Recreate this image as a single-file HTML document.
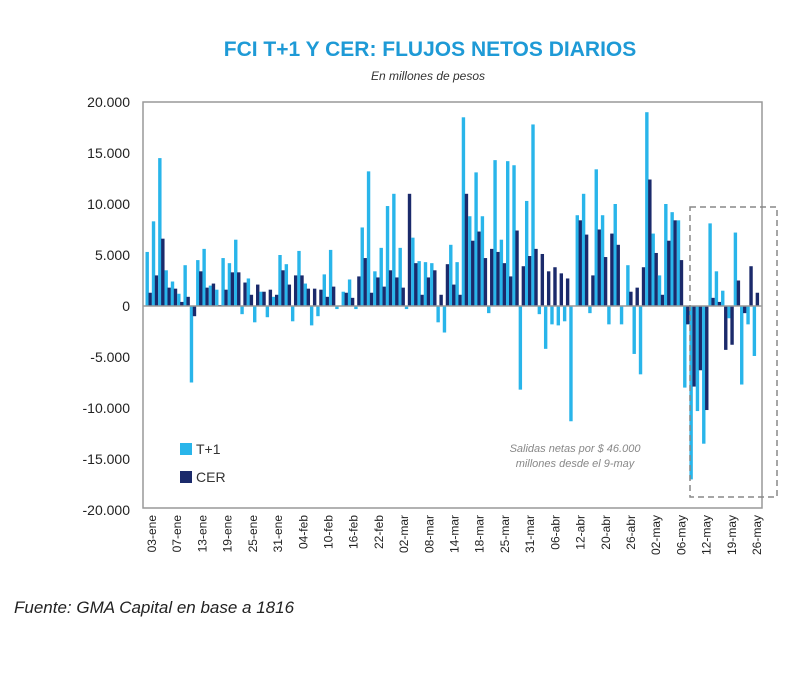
<!DOCTYPE html>
<html><head><meta charset="utf-8"><style>
body{margin:0;background:#fff;width:800px;height:675px;overflow:hidden;font-family:"Liberation Sans",sans-serif}
</style></head><body>
<svg width="800" height="675" xmlns="http://www.w3.org/2000/svg">
<text x="430" y="56" text-anchor="middle" font-size="21" font-weight="bold" fill="#1e9ad6">FCI T+1 Y CER: FLUJOS NETOS DIARIOS</text>
<text x="428" y="80" text-anchor="middle" font-size="12" font-style="italic" fill="#333">En millones de pesos</text>
<rect x="143" y="102" width="619" height="406" fill="none" stroke="#999" stroke-width="1.5"/>
<g id="yax"></g>
<g id="bars"></g>
<line x1="143" x2="762" id="zero" stroke="#999" stroke-width="1.5"/>
<g id="xax"></g>
<rect x="690" y="207" width="87" height="290" fill="none" stroke="#888" stroke-width="1.5" stroke-dasharray="6,4"/>
<text x="575" y="452" text-anchor="middle" font-size="11" font-style="italic" fill="#888">Salidas netas por $ 46.000</text>
<text x="575" y="467" text-anchor="middle" font-size="11" font-style="italic" fill="#888">millones desde el 9-may</text>
<rect x="180" y="443" width="12" height="12" fill="#29b5ea"/>
<text x="196" y="454" font-size="14" fill="#333">T+1</text>
<rect x="180" y="471" width="12" height="12" fill="#1b2a6b"/>
<text x="196" y="482" font-size="14" fill="#333">CER</text>
<text x="14" y="613" font-size="17" font-style="italic" fill="#222">Fuente: GMA Capital en base a 1816</text>
</svg>
<script>
const t1Values=[5.3,8.3,14.5,3.5,2.4,1.2,4,-7.5,4.5,5.6,2,1.6,4.7,4.2,6.5,-0.8,2.7,-1.6,1.4,-1.1,0.9,5,4.1,-1.5,5.4,2.2,-1.9,-1,3.1,5.5,-0.3,1.4,2.6,-0.3,
7.7,13.2,3.4,5.7,9.8,11,5.7,-0.3,6.7,4.4,4.3,4.2,-1.6,-2.6,6,4.3,18.5,8.8,13.1,8.8,-0.7,14.3,6.5,14.2,13.8,-8.2,10.3,17.8,-0.8,-4.2,-1.8,-1.9,-1.5,
-11.3,8.9,11,-0.7,13.4,8.9,-1.8,10,-1.8,4,-4.7,-6.7,19,7.1,3,10,9.2,8.4,-8,-17,-10.3,-13.5,8.1,3.4,1.5,-1.2,7.2,-7.7,-1.8,-4.9];
const cerValues=[1.3,3,6.6,1.8,1.7,0.4,0.9,-1,3.4,1.8,2.2,0.1,1.6,3.3,3.3,2.3,1.1,2.1,1.4,1.6,1.1,3.5,2.1,3,3,1.7,1.7,1.6,0.9,1.9,0,1.3,0.8,2.9,
4.7,1.3,2.8,1.9,3.5,2.8,1.8,11,4.2,1.1,2.8,3.5,1.1,4.1,2.1,1.1,11,6.4,7.3,4.7,5.6,5.3,4.2,2.9,7.4,3.9,4.9,5.6,5.1,3.4,3.8,3.2,2.7,
0,8.4,7,3,7.5,4.8,7.1,6,0,1.4,1.8,3.8,12.4,5.2,1.1,6.4,8.4,4.5,-1.8,-7.9,-6.3,-10.2,0.8,0.4,-4.3,-3.8,2.5,-0.7,3.9,1.3];
const yTicks=[20,15,10,5,0,-5,-10,-15,-20];
const yTickLabels=["20.000","15.000","10.000","5.000","0","-5.000","-10.000","-15.000","-20.000"];
const xLabels=["03-ene","07-ene","13-ene","19-ene","25-ene","31-ene","04-feb","10-feb","16-feb","22-feb","02-mar","08-mar","14-mar","18-mar","25-mar","31-mar","06-abr","12-abr","20-abr","26-abr","02-may","06-may","12-may","19-may","26-may"];
const NS="http://www.w3.org/2000/svg";
const y=v=>306-v*10.2;
const n=t1Values.length, x0=145.5, step=(759-x0)/n;
const xd=i=>x0+i*step;
function mk(t,a){const e=document.createElementNS(NS,t);for(const k in a)e.setAttribute(k,a[k]);return e;}
document.getElementById('zero').setAttribute('y1',y(0));document.getElementById('zero').setAttribute('y2',y(0));
const ya=document.getElementById('yax');
yTicks.forEach((v,i)=>{const t=mk('text',{x:130,y:y(v)+5,'text-anchor':'end','font-size':14,fill:'#222'});


t.textContent=yTickLabels[i];ya.appendChild(t);});
const g=document.getElementById('bars');
for(let i=0;i<n;i++){
 const a=t1Values[i],b=cerValues[i];
 const r1=mk('rect',{x:xd(i),y:Math.min(y(a),y(0)),width:3.4,height:Math.abs(y(a)-y(0)),fill:'#29b5ea'});
 
 
 g.appendChild(r1);
 const r2=mk('rect',{x:xd(i)+3,y:Math.min(y(b),y(0)),width:3.4,height:Math.abs(y(b)-y(0)),fill:'#1b2a6b'});
 
 
 g.appendChild(r2);
}
const xa=document.getElementById('xax');
const lstep=(757-152)/(xLabels.length-1);
xLabels.forEach((l,i)=>{const cx=152+i*lstep;const t=mk('text',{x:0,y:0,'text-anchor':'end','font-size':12,fill:'#222',transform:`translate(${cx+4},515) rotate(-90)`});


t.textContent=l;xa.appendChild(t);});
</script>
</body></html>
